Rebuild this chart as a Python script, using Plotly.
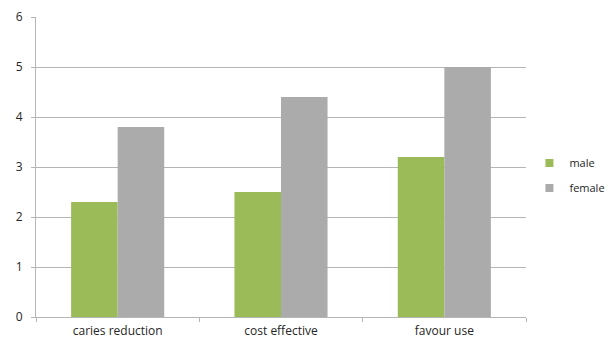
import plotly.graph_objects as go

categories = ["caries reduction", "cost effective", "favour use"]
male = [2.3, 2.5, 3.2]
female = [3.8, 4.4, 5.0]
y_ticks = [0, 1, 2, 3, 4, 5, 6]
series_names = ["male", "female"]
series_colors = ["#9bbb59", "#ababab"]

fig = go.Figure()
for name, vals, col in zip(series_names, [male, female], series_colors):
    fig.add_trace(go.Bar(name=name, x=categories, y=vals, marker_color=col,
                         marker_line_width=0, showlegend=False))
for i, (name, col) in enumerate(zip(series_names, series_colors)):
    fig.add_trace(go.Scatter(name=name, x=[None], y=[None], mode="markers",
                             marker=dict(symbol="square", size=8, color=col),
                             legendgroup=name, showlegend=True))

fig.update_layout(
    width=611, height=340,
    margin=dict(l=36, r=85, t=17, b=23, autoexpand=False),
    paper_bgcolor="white", plot_bgcolor="white",
    barmode="group", bargap=0.43, bargroupgap=0,
    font=dict(family="Open Sans, sans-serif", size=11, color="#262626"),
    legend=dict(x=1.007, y=0.472, xanchor="left", yanchor="middle",
                traceorder="grouped", tracegroupgap=6,
                font=dict(size=11, color="#262626"), itemwidth=30),
    showlegend=True,
)
fig.update_xaxes(showline=True, linecolor="#b5b5b5", linewidth=1,
                 ticks="outside", tickson="boundaries", ticklen=4, tickcolor="#b5b5b5",
                 showgrid=False, automargin=False, ticklabelstandoff=3,
                 tickfont=dict(size=12))
fig.update_yaxes(range=[0, 6], tickvals=y_ticks, showline=True, linecolor="#b5b5b5",
                 linewidth=1, ticks="outside", ticklen=4, tickcolor="#b5b5b5",
                 showgrid=True, gridcolor="#b5b5b5", gridwidth=1, zeroline=False,
                 automargin=False, tickfont=dict(size=12), ticklabelstandoff=6)

fig.write_html("out.html")
